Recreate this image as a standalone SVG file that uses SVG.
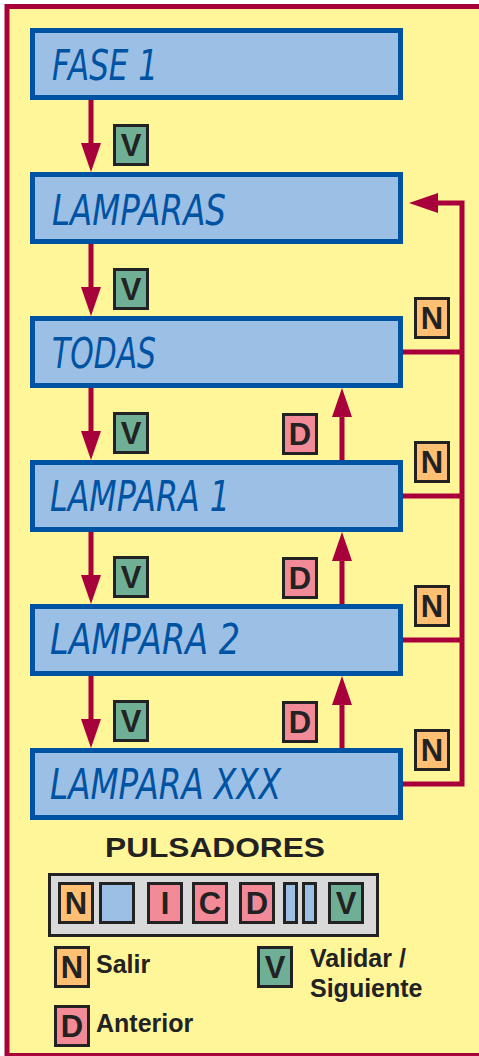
<svg xmlns="http://www.w3.org/2000/svg" width="479" height="1056" viewBox="0 0 479 1056">
<defs>
<style>
.lcd{fill:#9BBFE5;stroke:#0052A2;stroke-width:5}
.lt{font-family:"DejaVu Sans","Liberation Sans",sans-serif;font-style:italic;font-weight:200;font-size:42px;fill:#0052A2}
.bd{stroke:#222;stroke-width:3}
.g{fill:#6FAF96}.o{fill:#FFC074}.p{fill:#F28A97}.b{fill:#9BBFE5}
.bl{font-family:"Liberation Sans",Arial,sans-serif;font-weight:bold;font-size:31px;fill:#222;text-anchor:middle}
.lg{font-family:"Liberation Sans",Arial,sans-serif;font-weight:bold;font-size:25px;fill:#222}
.ln{stroke:#A8003A;stroke-width:5;fill:none}
.ah{fill:#A8003A}
</style>
</defs>
<rect x="0" y="0" width="479" height="1056" fill="#fff"/>
<rect x="7" y="6.5" width="500" height="1049" fill="#FFF599" stroke="#A8003A" stroke-width="5"/>

<g id="connectors">
<path class="ln" d="M91 100V144M91 244V288M91 388V432M91 532V576M91 676V720"/>
<path class="ah" d="M81 143H101L91 172ZM81 287H101L91 316ZM81 431H101L91 460ZM81 575H101L91 604ZM81 719H101L91 748Z"/>
<path class="ln" d="M342 460V416M342 604V560M342 748V704"/>
<path class="ah" d="M332 417H352L342 388ZM332 561H352L342 532ZM332 705H352L342 676Z"/>
<path class="ln" d="M403 352H462M403 496H462M403 640H462M403 784H462M462 786.5V203H436"/>
<path class="ah" d="M438 193V213L409 203Z"/>
</g>

<g id="n-fase1"><rect class="lcd" x="32.5" y="30.5" width="368" height="67"/><text class="lt" x="52" y="80" textLength="106" lengthAdjust="spacingAndGlyphs">FASE 1</text></g>
<g id="n-lamparas"><rect class="lcd" x="32.5" y="174.5" width="368" height="67"/><text class="lt" x="52" y="225" textLength="174" lengthAdjust="spacingAndGlyphs">LAMPARAS</text></g>
<g id="n-todas"><rect class="lcd" x="32.5" y="318.5" width="368" height="67"/><text class="lt" x="52" y="368" textLength="104" lengthAdjust="spacingAndGlyphs">TODAS</text></g>
<g id="n-lampara1"><rect class="lcd" x="32.5" y="462.5" width="368" height="67"/><text class="lt" x="50" y="511" textLength="180" lengthAdjust="spacingAndGlyphs">LAMPARA 1</text></g>
<g id="n-lampara2"><rect class="lcd" x="32.5" y="606.5" width="368" height="67"/><text class="lt" x="50" y="654" textLength="190" lengthAdjust="spacingAndGlyphs">LAMPARA 2</text></g>
<g id="n-lamparaxxx"><rect class="lcd" x="32.5" y="750.5" width="368" height="67"/><text class="lt" x="50" y="799" textLength="231" lengthAdjust="spacingAndGlyphs">LAMPARA XXX</text></g>

<g id="badges">
<g><rect class="bd g" x="114.5" y="125.5" width="33" height="39"/><text class="bl" x="131" y="156">V</text></g>
<g><rect class="bd g" x="114.5" y="269.5" width="33" height="39"/><text class="bl" x="131" y="300">V</text></g>
<g><rect class="bd g" x="114.5" y="413.5" width="33" height="39"/><text class="bl" x="131" y="444">V</text></g>
<g><rect class="bd g" x="114.5" y="557.5" width="33" height="39"/><text class="bl" x="131" y="588">V</text></g>
<g><rect class="bd g" x="114.5" y="701.5" width="33" height="39"/><text class="bl" x="131" y="732">V</text></g>
<g><rect class="bd p" x="283.5" y="414.5" width="33" height="39"/><text class="bl" x="300" y="445">D</text></g>
<g><rect class="bd p" x="283.5" y="558.5" width="33" height="39"/><text class="bl" x="300" y="589">D</text></g>
<g><rect class="bd p" x="283.5" y="702.5" width="33" height="39"/><text class="bl" x="300" y="733">D</text></g>
<g><rect class="bd o" x="415.5" y="298.5" width="33" height="39"/><text class="bl" x="432" y="329">N</text></g>
<g><rect class="bd o" x="415.5" y="442.5" width="33" height="39"/><text class="bl" x="432" y="473">N</text></g>
<g><rect class="bd o" x="415.5" y="586.5" width="33" height="39"/><text class="bl" x="432" y="617">N</text></g>
<g><rect class="bd o" x="415.5" y="730.5" width="33" height="39"/><text class="bl" x="432" y="761">N</text></g>
</g>

<g id="pulsadores">
<text x="105" y="857" font-family="Liberation Sans, Arial, sans-serif" font-weight="bold" font-size="28" fill="#222" textLength="220" lengthAdjust="spacingAndGlyphs">PULSADORES</text>
<rect x="49.5" y="874.5" width="328" height="61" fill="#D9D9D9" stroke="#222" stroke-width="3"/>
<rect class="bd o" x="59.5" y="883.5" width="33" height="39"/><text class="bl" x="76" y="914">N</text>
<rect class="bd b" x="100.5" y="883.5" width="33" height="39"/>
<rect class="bd p" x="148.5" y="883.5" width="33" height="39"/><text class="bl" x="165" y="914">I</text>
<rect class="bd p" x="193.5" y="883.5" width="33" height="39"/><text class="bl" x="210" y="914">C</text>
<rect class="bd p" x="240.5" y="883.5" width="33" height="39"/><text class="bl" x="257" y="914">D</text>
<rect class="bd b" x="284.5" y="883.5" width="12" height="39"/>
<rect class="bd b" x="303.5" y="883.5" width="12" height="39"/>
<rect class="bd g" x="329.5" y="883.5" width="33" height="39"/><text class="bl" x="346" y="914">V</text>
</g>

<g id="legend">
<rect class="bd o" x="55.5" y="947.5" width="33" height="39"/><text class="bl" x="72" y="978">N</text>
<text class="lg" x="96" y="973">Salir</text>
<rect class="bd p" x="55.5" y="1006.5" width="33" height="39"/><text class="bl" x="72" y="1037">D</text>
<text class="lg" x="96" y="1032">Anterior</text>
<rect class="bd g" x="258.5" y="947.5" width="33" height="39"/><text class="bl" x="275" y="978">V</text>
<text class="lg" x="310" y="967">Validar /</text>
<text class="lg" x="310" y="997">Siguiente</text>
</g>
</svg>
